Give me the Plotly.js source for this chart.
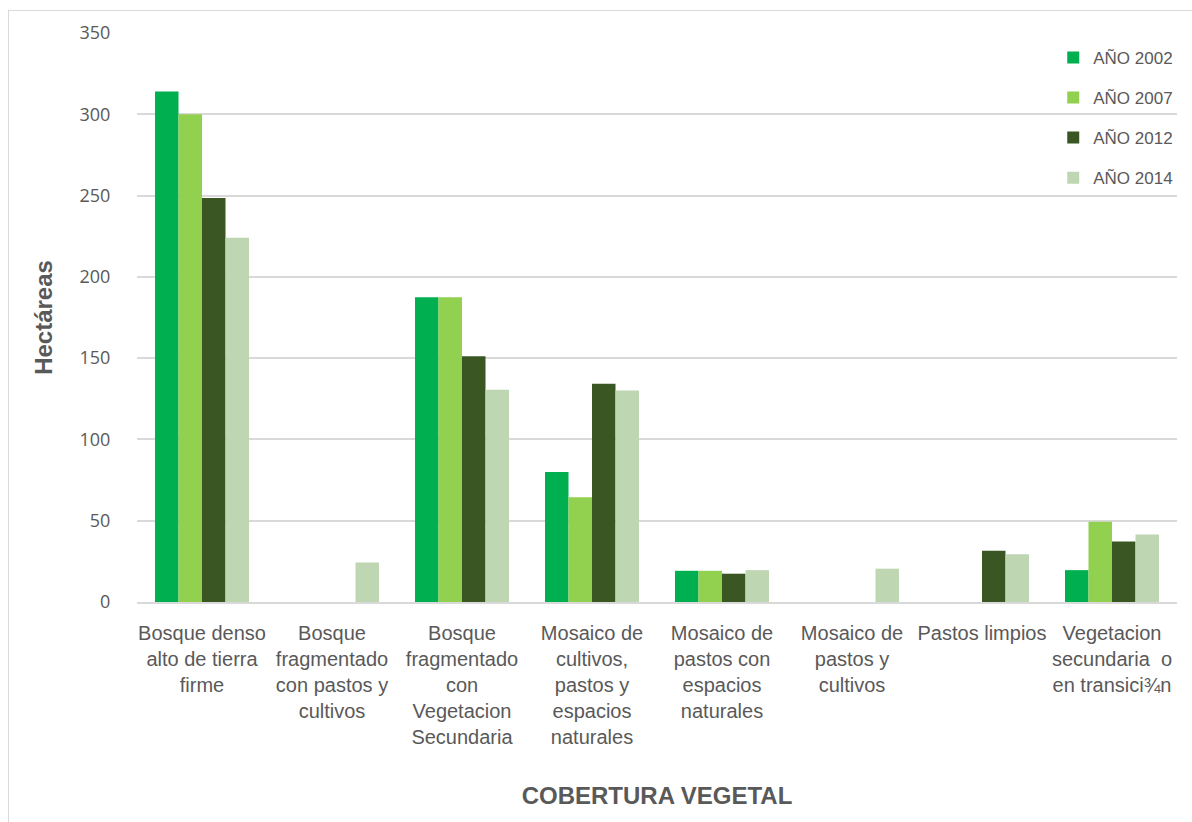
<!DOCTYPE html>
<html>
<head>
<meta charset="utf-8">
<script src="https://cdn.plot.ly/plotly-3.0.1.min.js"></script>
<style>
html,body{margin:0;padding:0;background:#fff;}
#chart{width:1192px;height:822px;position:absolute;left:0;top:0;}
#frame{position:absolute;left:8px;top:10px;width:1300px;height:900px;border:1px solid #d9d9d9;pointer-events:none;}
</style>
</head>
<body>
<div id="chart"></div>
<div id="frame"></div>
<script>
const categories = [
  "Bosque denso alto de tierra firme",
  "Bosque fragmentado con pastos y cultivos",
  "Bosque fragmentado con Vegetacion Secundaria",
  "Mosaico de cultivos, pastos y espacios naturales",
  "Mosaico de pastos con espacios naturales",
  "Mosaico de pastos y cultivos",
  "Pastos limpios",
  "Vegetacion secundaria  o en transici¾n"
];
const tickLabels = [
  "Bosque denso<br>alto de tierra<br>firme",
  "Bosque<br>fragmentado<br>con pastos y<br>cultivos",
  "Bosque<br>fragmentado<br>con<br>Vegetacion<br>Secundaria",
  "Mosaico de<br>cultivos,<br>pastos y<br>espacios<br>naturales",
  "Mosaico de<br>pastos con<br>espacios<br>naturales",
  "Mosaico de<br>pastos y<br>cultivos",
  "Pastos limpios",
  "Vegetacion<br>secundaria  o<br>en transici¾n"
];
const seriesNames = ["AÑO 2002", "AÑO 2007", "AÑO 2012", "AÑO 2014"];
const ano2002 = [314, null, 187.5, 80, 19.2, null, null, 19.6];
const ano2007 = [300, null, 187.5, 64.5, 19.2, null, null, 49.4];
const ano2012 = [248.5, null, 151.2, 134.2, 17.4, null, 31.6, 37.2];
const ano2014 = [224, 24.3, 130.5, 130.1, 19.6, 20.5, 29.3, 41.5];
const yTicks = [0, 50, 100, 150, 200, 250, 300, 350];

const colors = ["#00B050", "#92D050", "#3A5723", "#BFD6B3"];
const seriesValues = [ano2002, ano2007, ano2012, ano2014];

const sans = '"Liberation Sans", Arial, sans-serif';

const traces = seriesValues.map((vals, i) => ({
  type: 'bar',
  name: seriesNames[i],
  x: categories,
  y: vals,
  legendgroup: 'g' + i,
  marker: {color: colors[i], line: {width: 0}},
  hoverinfo: 'x+y+name'
}));

const layout = {
  width: 1192,
  height: 822,
  paper_bgcolor: '#ffffff',
  plot_bgcolor: '#ffffff',
  margin: {l: 137, r: 15, t: 33, b: 220, autoexpand: false},
  barmode: 'group',
  bargap: 0.277,
  bargroupgap: 0,
  showlegend: true,
  legend: {
    x: 0.881, xanchor: 'left',
    y: 0.988, yanchor: 'top',
    traceorder: 'grouped',
    tracegroupgap: 15,
    font: {family: sans, size: 17, color: '#595959'},
    bgcolor: 'rgba(0,0,0,0)',
    itemwidth: 30
  },
  xaxis: {
    type: 'category',
    tickmode: 'array',
    tickvals: categories,
    ticktext: tickLabels,
    tickfont: {family: sans, size: 20, color: '#595959'},
    ticks: 'outside',
    ticklen: 12,
    tickcolor: 'rgba(0,0,0,0)',
    showline: true,
    linecolor: '#d9d9d9',
    linewidth: 1.5,
    showgrid: false,
    automargin: false,
    title: {
      text: '<b>COBERTURA VEGETAL</b>',
      font: {family: sans, size: 24, color: '#595959'},
      standoff: 40
    }
  },
  yaxis: {
    range: [0, 350],
    tickmode: 'array',
    tickvals: yTicks,
    tickfont: {family: '"Open Sans", sans-serif', size: 18, color: '#595959'},
    ticks: 'outside',
    ticklen: 22,
    tickcolor: 'rgba(0,0,0,0)',
    showgrid: true,
    gridcolor: '#d9d9d9',
    gridwidth: 1.5,
    zeroline: false,
    showline: false,
    automargin: false,
    title: {
      text: '<b>Hectáreas</b>',
      font: {family: sans, size: 24, color: '#595959'},
      standoff: 20
    }
  }
};

Plotly.newPlot('chart', traces, layout, {displayModeBar: false, responsive: false});
</script>
</body>
</html>
